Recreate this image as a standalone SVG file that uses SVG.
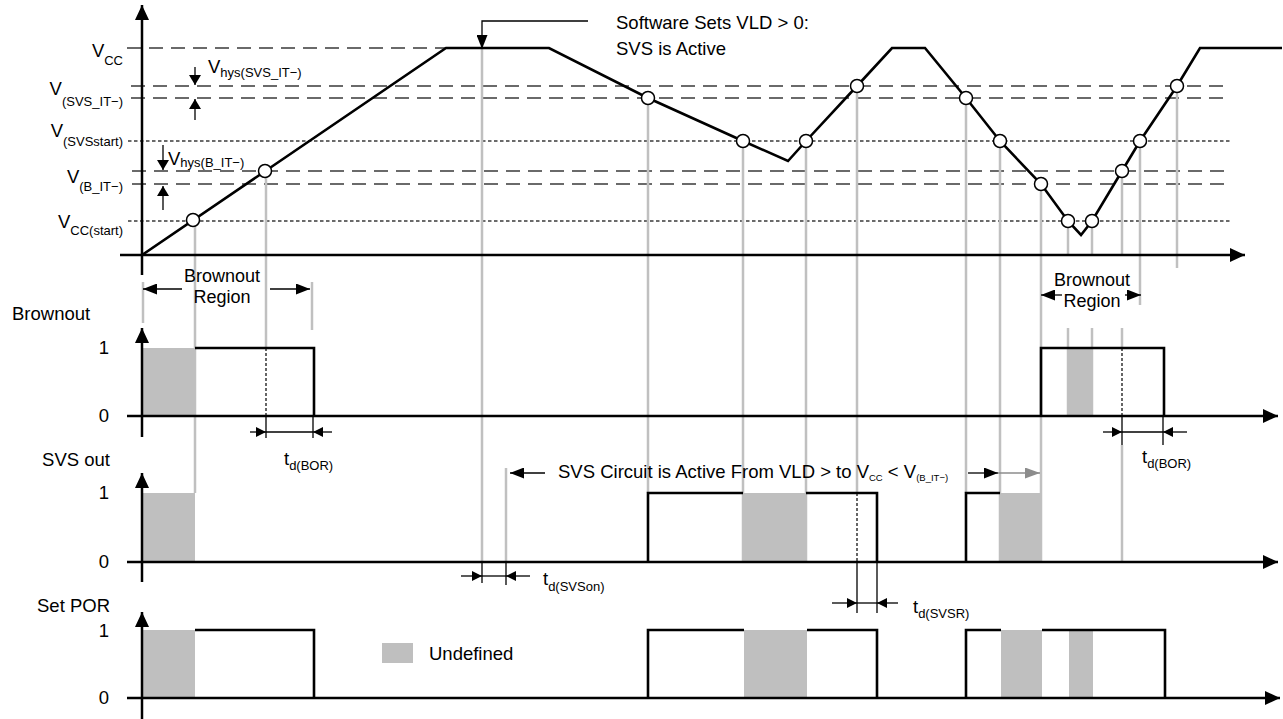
<svg xmlns="http://www.w3.org/2000/svg" width="1283" height="719" viewBox="0 0 1283 719">
<style>
text{font-family:"Liberation Sans",Arial,sans-serif;font-size:18.5px;fill:#000}
.sub{font-size:13px}
.tiny{font-size:9.5px}
.reg{font-size:18px}
.lvl{stroke:#3a3a3a;stroke-width:1.5;fill:none}
.dash{stroke-dasharray:14 8}
.dot{stroke-dasharray:3.5 2.5}
.ax{stroke:#000;stroke-width:2.5;fill:none}
.tr{stroke:#000;stroke-width:2.6;fill:none;stroke-linejoin:miter}
.dr{stroke:#c0c0c0;stroke-width:2.5;fill:none}
.thin{stroke:#000;stroke-width:1.3;fill:none}
.bd{stroke:#000;stroke-width:1.2;stroke-dasharray:3 2;fill:none}
.und{fill:#bfbfbf}
.pc{fill:#fff;stroke:#000;stroke-width:1.5}
</style>
<defs>
<marker id="ah" viewBox="0 0 15 14" refX="15" refY="7" markerWidth="15" markerHeight="14" markerUnits="userSpaceOnUse" orient="auto"><path d="M0,0 L15,7 L0,14 Z" fill="#000"/></marker>
<marker id="am" viewBox="0 0 14 11" refX="14" refY="5.5" markerWidth="14" markerHeight="11" markerUnits="userSpaceOnUse" orient="auto"><path d="M0,0 L14,5.5 L0,11 Z" fill="#000"/></marker>
<marker id="ag" viewBox="0 0 15 11" refX="15" refY="5.5" markerWidth="15" markerHeight="11" markerUnits="userSpaceOnUse" orient="auto"><path d="M0,0 L15,5.5 L0,11 Z" fill="#8c8c8c"/></marker>
<marker id="av" viewBox="0 0 10 12" refX="10" refY="6" markerWidth="10" markerHeight="12" markerUnits="userSpaceOnUse" orient="auto"><path d="M0,0 L10,6 L0,12 Z" fill="#000"/></marker>
<marker id="as" viewBox="0 0 10 10" refX="10" refY="5" markerWidth="10" markerHeight="10" markerUnits="userSpaceOnUse" orient="auto"><path d="M0,0 L10,5 L0,10 Z" fill="#000"/></marker>
</defs>

<g id="levels">
<line class="lvl dash" x1="127" y1="48" x2="446" y2="48"/>
<line class="lvl dash" x1="131" y1="86" x2="1227" y2="86"/>
<line class="lvl dash" x1="131" y1="98" x2="1227" y2="98"/>
<line class="lvl dot" x1="128" y1="141" x2="1230" y2="141"/>
<line class="lvl dash" x1="132" y1="171" x2="1227" y2="171"/>
<line class="lvl dash" x1="132" y1="184" x2="1227" y2="184"/>
<line class="lvl dot" x1="128" y1="221" x2="1230" y2="221"/>
</g>

<g id="drop-lines">
<line class="dr" x1="195" y1="226" x2="195" y2="493"/>
<line class="dr" x1="266" y1="177" x2="266" y2="348"/>
<line class="dr" x1="143" y1="282" x2="143" y2="323"/>
<line class="dr" x1="312" y1="282" x2="312" y2="330"/>
<line class="dr" x1="482" y1="49" x2="482" y2="562"/>
<line class="dr" x1="506" y1="468" x2="506" y2="562"/>
<line class="dr" x1="648" y1="104" x2="648" y2="493"/>
<line class="dr" x1="743" y1="147" x2="743" y2="562"/>
<line class="dr" x1="806" y1="147" x2="806" y2="562"/>
<line class="dr" x1="857" y1="92" x2="857" y2="493"/>
<line class="dr" x1="966" y1="104" x2="966" y2="493"/>
<line class="dr" x1="1000" y1="147" x2="1000" y2="562"/>
<line class="dr" x1="1041" y1="190" x2="1041" y2="562"/>
<line class="dr" x1="1068" y1="227" x2="1068" y2="255"/>
<line class="dr" x1="1068" y1="328" x2="1068" y2="416"/>
<line class="dr" x1="1092" y1="227" x2="1092" y2="255"/>
<line class="dr" x1="1092" y1="328" x2="1092" y2="416"/>
<line class="dr" x1="1122" y1="177" x2="1122" y2="255"/>
<line class="dr" x1="1122" y1="328" x2="1122" y2="348"/>
<line class="dr" x1="1122" y1="445" x2="1122" y2="562"/>
<line class="dr" x1="1140" y1="147" x2="1140" y2="305"/>
<line class="dr" x1="1177" y1="92" x2="1177" y2="268"/>
</g>

<g id="vcc-plot">
<line class="ax" x1="142" y1="275" x2="142" y2="5" marker-end="url(#ah)"/>
<line class="ax" x1="120" y1="255" x2="1245" y2="255" marker-end="url(#ah)"/>
<polyline class="tr" points="142,255 446,48 549,48 648,98 743,141 788,161 806,141 857,86 892,48 925,48 966,98 1000,141 1041,184 1068,221 1081,235 1092,221 1122,171 1140,141 1177,86 1200,48 1282,48"/>
<circle class="pc" cx="193" cy="220" r="6.5"/>
<circle class="pc" cx="265" cy="171" r="6.5"/>
<circle class="pc" cx="648" cy="98" r="6.5"/>
<circle class="pc" cx="743" cy="141" r="6.5"/>
<circle class="pc" cx="806" cy="141" r="6.5"/>
<circle class="pc" cx="857" cy="86" r="6.5"/>
<circle class="pc" cx="966" cy="98" r="6.5"/>
<circle class="pc" cx="1000" cy="141" r="6.5"/>
<circle class="pc" cx="1041" cy="184" r="6.5"/>
<circle class="pc" cx="1068" cy="221" r="6.5"/>
<circle class="pc" cx="1092" cy="221" r="6.5"/>
<circle class="pc" cx="1122" cy="171" r="6.5"/>
<circle class="pc" cx="1140" cy="141" r="6.5"/>
<circle class="pc" cx="1177" cy="86" r="6.5"/>
</g>

<g id="vcc-labels">
<text x="123" y="57" text-anchor="end">V<tspan class="sub" dy="8">CC</tspan></text>
<text x="123" y="95" text-anchor="end">V<tspan class="sub" dy="11">(SVS_IT−)</tspan></text>
<text x="123" y="137" text-anchor="end">V<tspan class="sub" dy="9">(SVSstart)</tspan></text>
<text x="123" y="183" text-anchor="end">V<tspan class="sub" dy="8">(B_IT−)</tspan></text>
<text x="123" y="228" text-anchor="end">V<tspan class="sub" dy="7">CC(start)</tspan></text>
<text x="208" y="73">V<tspan class="sub" dy="4">hys(SVS_IT−)</tspan></text>
<text x="168" y="165">V<tspan class="sub" dy="2">hys(B_IT−)</tspan></text>
<line class="thin" x1="195" y1="67" x2="195" y2="85" marker-end="url(#av)"/>
<line class="thin" x1="195" y1="120" x2="195" y2="99" marker-end="url(#av)"/>
<line class="thin" x1="163" y1="145" x2="163" y2="170" marker-end="url(#av)"/>
<line class="thin" x1="163" y1="210" x2="163" y2="186" marker-end="url(#av)"/>
</g>

<g id="software-callout">
<polyline class="thin" points="588,21 482,21 482,49" marker-end="url(#am)"/>
<text x="616" y="29">Software Sets VLD &gt; 0:</text>
<text x="616" y="55">SVS is Active</text>
</g>

<g id="brownout">
<text x="12" y="320">Brownout</text>
<text x="109" y="354" text-anchor="end">1</text>
<text x="109" y="422" text-anchor="end">0</text>
<rect class="und" x="142" y="348" width="53" height="68"/>
<rect class="und" x="1068" y="348" width="24" height="68"/>
<line class="ax" x1="142" y1="437" x2="142" y2="328" marker-end="url(#ah)"/>
<line class="ax" x1="127" y1="416" x2="1278" y2="416" marker-end="url(#ah)"/>
<path class="tr" d="M195,348 H314 V416"/>
<path class="tr" d="M1041,416 V348 H1164 V416"/>
<text class="reg" x="222" y="282" text-anchor="middle">Brownout</text>
<text class="reg" x="222" y="303" text-anchor="middle">Region</text>
<line class="thin" x1="182" y1="289" x2="143" y2="289" marker-end="url(#am)"/>
<line class="thin" x1="270" y1="289" x2="310" y2="289" marker-end="url(#am)"/>
<text class="reg" x="1092" y="286" text-anchor="middle">Brownout</text>
<text class="reg" x="1092" y="307" text-anchor="middle">Region</text>
<line class="thin" x1="1062" y1="295" x2="1041" y2="295" marker-end="url(#am)"/>
<line class="thin" x1="1125" y1="295" x2="1141" y2="295" marker-end="url(#am)"/>
</g>

<g id="svs-out">
<text x="110" y="466" text-anchor="end">SVS out</text>
<text x="109" y="499" text-anchor="end">1</text>
<text x="109" y="568" text-anchor="end">0</text>
<rect class="und" x="142" y="493" width="53" height="69"/>
<rect class="und" x="743" y="493" width="63" height="69"/>
<rect class="und" x="1000" y="493" width="41" height="69"/>
<line class="ax" x1="142" y1="582" x2="142" y2="473" marker-end="url(#ah)"/>
<line class="ax" x1="127" y1="562" x2="1278" y2="562" marker-end="url(#ah)"/>
<path class="tr" d="M648,562 V493 H743 M806,493 H877 V562"/>
<path class="tr" d="M966,562 V493 H1000"/>
<line class="thin" x1="545" y1="473" x2="510" y2="473" marker-end="url(#am)"/>
<text x="558" y="478">SVS Circuit is Active From VLD &gt; to V<tspan class="tiny" dy="3">CC</tspan><tspan dy="-3"> &lt; V</tspan><tspan class="tiny" dy="3">(B_IT−)</tspan></text>
<line class="thin" x1="968" y1="473" x2="998" y2="473" marker-end="url(#am)"/>
<line x1="998" y1="473" x2="1040" y2="473" stroke="#8c8c8c" stroke-width="1.3" marker-end="url(#ag)"/>
</g>

<g id="set-por">
<text x="110" y="612" text-anchor="end">Set POR</text>
<text x="109" y="637" text-anchor="end">1</text>
<text x="109" y="704" text-anchor="end">0</text>
<rect class="und" x="142" y="630" width="53" height="68"/>
<rect class="und" x="744" y="630" width="63" height="68"/>
<rect class="und" x="1001" y="630" width="41" height="68"/>
<rect class="und" x="1069" y="630" width="24" height="68"/>
<line class="ax" x1="142" y1="719" x2="142" y2="612" marker-end="url(#ah)"/>
<line class="ax" x1="127" y1="698" x2="1280" y2="698" marker-end="url(#ah)"/>
<path class="tr" d="M195,630 H314 V698"/>
<path class="tr" d="M648,698 V630 H744 M807,630 H877 V698"/>
<path class="tr" d="M966,698 V630 H1001 M1042,630 H1165 V698"/>
</g>

<g id="legend">
<rect class="und" x="382" y="643" width="31" height="20"/>
<text x="429" y="660">Undefined</text>
</g>

<g id="timing-marks">
<line class="bd" x1="266" y1="348" x2="266" y2="416"/>
<line class="bd" x1="857" y1="493" x2="857" y2="562"/>
<line class="bd" x1="1122" y1="348" x2="1122" y2="416"/>
<line class="thin" x1="266" y1="416" x2="266" y2="438"/>
<line class="thin" x1="313" y1="416" x2="313" y2="438"/>
<line class="thin" x1="1122" y1="416" x2="1122" y2="445"/>
<line class="thin" x1="1163" y1="416" x2="1163" y2="445"/>
<line class="thin" x1="482" y1="562" x2="482" y2="583"/>
<line class="thin" x1="506" y1="562" x2="506" y2="585"/>
<line class="thin" x1="857" y1="562" x2="857" y2="613"/>
<line class="thin" x1="877" y1="562" x2="877" y2="613"/>
<line class="thin" x1="250" y1="432" x2="266" y2="432" marker-end="url(#as)"/>
<line class="thin" x1="266" y1="432" x2="313" y2="432"/>
<line class="thin" x1="332" y1="432" x2="313" y2="432" marker-end="url(#as)"/>
<line class="thin" x1="1103" y1="432" x2="1122" y2="432" marker-end="url(#as)"/>
<line class="thin" x1="1122" y1="432" x2="1163" y2="432"/>
<line class="thin" x1="1187" y1="432" x2="1163" y2="432" marker-end="url(#as)"/>
<line class="thin" x1="461" y1="576" x2="482" y2="576" marker-end="url(#as)"/>
<line class="thin" x1="482" y1="576" x2="506" y2="576"/>
<line class="thin" x1="530" y1="576" x2="506" y2="576" marker-end="url(#as)"/>
<line class="thin" x1="832" y1="603" x2="857" y2="603" marker-end="url(#as)"/>
<line class="thin" x1="857" y1="603" x2="877" y2="603"/>
<line class="thin" x1="898" y1="603" x2="877" y2="603" marker-end="url(#as)"/>
<text x="284" y="465">t<tspan class="sub" dy="5">d(BOR)</tspan></text>
<text x="1142" y="463">t<tspan class="sub" dy="5">d(BOR)</tspan></text>
<text x="543" y="585">t<tspan class="sub" dy="6">d(SVSon)</tspan></text>
<text x="913" y="613">t<tspan class="sub" dy="5">d(SVSR)</tspan></text>
</g>
</svg>
